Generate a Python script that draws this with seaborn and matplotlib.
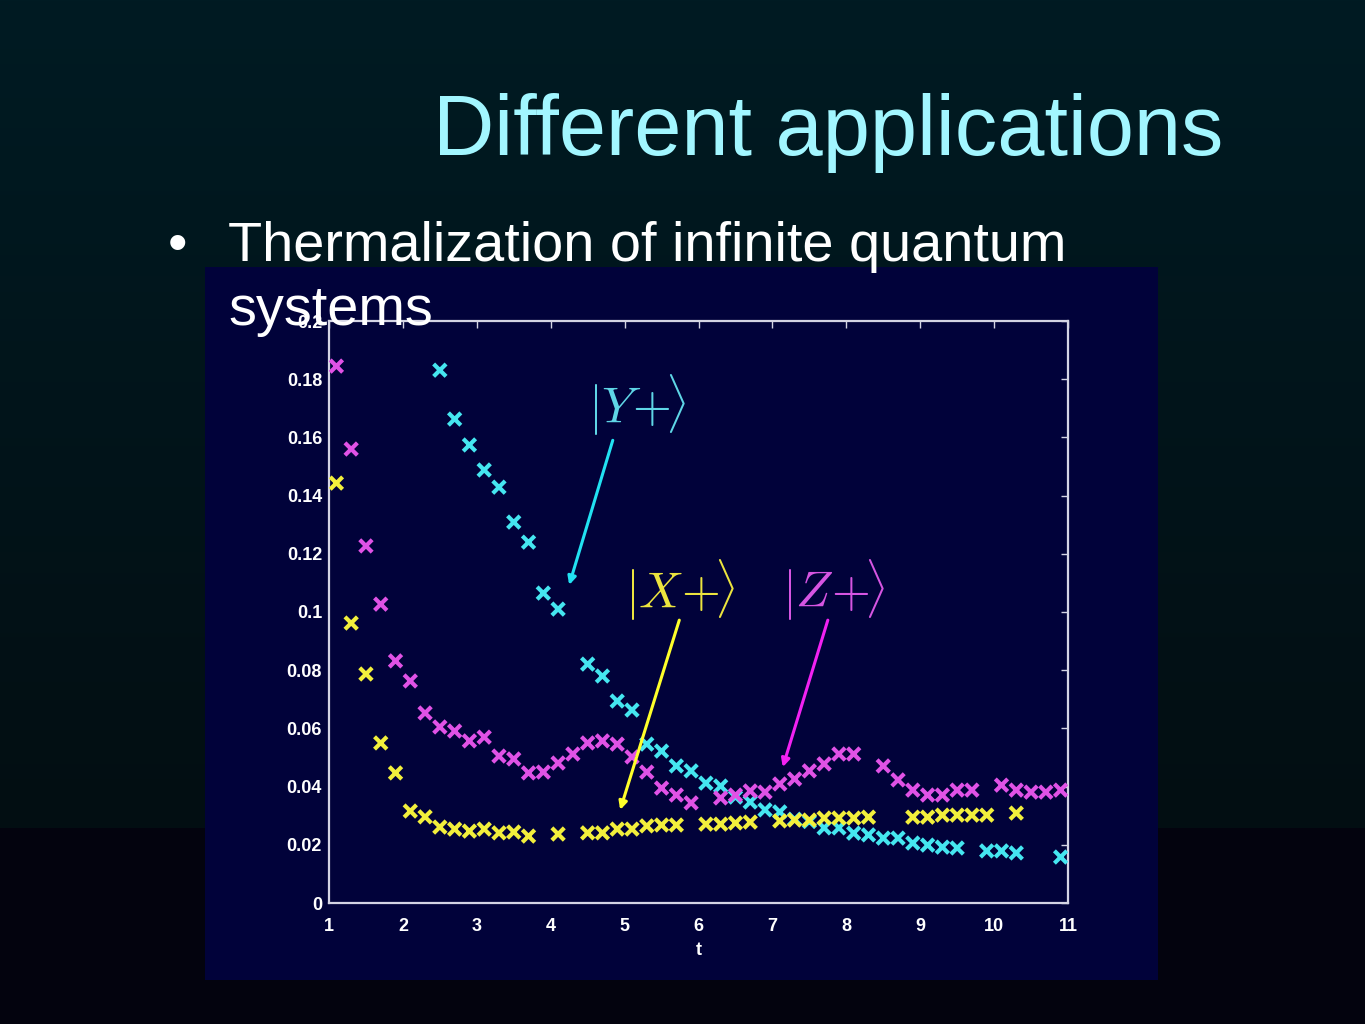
import numpy as np
import pandas as pd
import matplotlib
matplotlib.use("Agg")
import matplotlib.pyplot as plt
import seaborn as sns
from matplotlib.patches import Rectangle
from matplotlib.ticker import FuncFormatter

sns.set_theme(style="white")
plt.rcParams['font.family'] = ['Liberation Sans', 'DejaVu Sans']
plt.rcParams['mathtext.fontset'] = 'cm'

# ---------------- data ----------------
t_y = [2.5, 2.7, 2.9, 3.1, 3.3, 3.5, 3.7, 3.9, 4.1, 4.5, 4.7, 4.9, 5.1, 5.3, 5.5,
       5.7, 5.9, 6.1, 6.3, 6.5, 6.7, 6.9, 7.1, 7.3, 7.5, 7.7, 7.9, 8.1, 8.3, 8.5,
       8.7, 8.9, 9.1, 9.3, 9.5, 9.9, 10.1, 10.3, 10.9]
v_y = [0.1831, 0.1663, 0.1574, 0.1488, 0.1429, 0.1309, 0.1240, 0.1065, 0.1010,
       0.0821, 0.0780, 0.0694, 0.0663, 0.0546, 0.0522, 0.0471, 0.0454, 0.0412,
       0.0402, 0.0364, 0.0347, 0.0320, 0.0313, 0.0288, 0.0280, 0.0258, 0.0258,
       0.0240, 0.0234, 0.0223, 0.0223, 0.0206, 0.0199, 0.0192, 0.0189, 0.0179,
       0.0179, 0.0172, 0.0158]

t_x = [1.1, 1.3, 1.5, 1.7, 1.9, 2.1, 2.3, 2.5, 2.7, 2.9, 3.1, 3.3, 3.5, 3.7, 4.1,
       4.5, 4.7, 4.9, 5.1, 5.3, 5.5, 5.7, 6.1, 6.3, 6.5, 6.7, 7.1, 7.3, 7.5, 7.7,
       7.9, 8.1, 8.3, 8.9, 9.1, 9.3, 9.5, 9.7, 9.9, 10.3]
v_x = [0.1443, 0.0962, 0.0787, 0.0550, 0.0447, 0.0316, 0.0296, 0.0261, 0.0254,
       0.0247, 0.0254, 0.0241, 0.0244, 0.0230, 0.0237, 0.0241, 0.0241, 0.0254,
       0.0254, 0.0265, 0.0268, 0.0268, 0.0271, 0.0271, 0.0275, 0.0278, 0.0282,
       0.0285, 0.0285, 0.0292, 0.0292, 0.0292, 0.0295, 0.0295, 0.0295, 0.0302,
       0.0302, 0.0302, 0.0302, 0.0309]

t_z = [1.1, 1.3, 1.5, 1.7, 1.9, 2.1, 2.3, 2.5, 2.7, 2.9, 3.1, 3.3, 3.5, 3.7, 3.9,
       4.1, 4.3, 4.5, 4.7, 4.9, 5.1, 5.3, 5.5, 5.7, 5.9, 6.3, 6.5, 6.7, 6.9, 7.1,
       7.3, 7.5, 7.7, 7.9, 8.1, 8.5, 8.7, 8.9, 9.1, 9.3, 9.5, 9.7, 10.1, 10.3,
       10.5, 10.7, 10.9]
v_z = [0.1845, 0.1560, 0.1227, 0.1027, 0.0832, 0.0763, 0.0653, 0.0605, 0.0591,
       0.0557, 0.0570, 0.0505, 0.0495, 0.0447, 0.0450, 0.0481, 0.0512, 0.0550,
       0.0557, 0.0546, 0.0502, 0.0450, 0.0395, 0.0371, 0.0344, 0.0361, 0.0371,
       0.0385, 0.0381, 0.0409, 0.0426, 0.0454, 0.0478, 0.0512, 0.0512, 0.0471,
       0.0423, 0.0388, 0.0371, 0.0371, 0.0388, 0.0388, 0.0405, 0.0388, 0.0381,
       0.0381, 0.0388]

x_ticks = [1, 2, 3, 4, 5, 6, 7, 8, 9, 10, 11]
y_ticks = [0, 0.02, 0.04, 0.06, 0.08, 0.10, 0.12, 0.14, 0.16, 0.18, 0.20]

title = "Different applications"
bullet_line1 = "Thermalization of infinite quantum"
bullet_line2 = "systems"
x_label = "t"

df = pd.concat([
    pd.DataFrame({"t": t_y, "value": v_y, "state": "Y"}),
    pd.DataFrame({"t": t_x, "value": v_x, "state": "X"}),
    pd.DataFrame({"t": t_z, "value": v_z, "state": "Z"}),
], ignore_index=True)
palette = {"Y": "#45e6f0", "X": "#f2ef3c", "Z": "#e052e6"}

# ---------------- figure ----------------
W, H = 1365, 1024
fig = plt.figure(figsize=(W / 100, H / 100), dpi=100)

# slide background gradient
bg = fig.add_axes([0, 0, 1, 1], zorder=-10)
rows = np.linspace(0, 1, H)
split = 828 / H
top = np.array([0, 27, 35]) / 255
mid = np.array([3, 14, 18]) / 255
low = np.array([3, 3, 14]) / 255
img = np.zeros((H, 2, 3))
for i, r in enumerate(rows):
    if r < split:
        c = top + (mid - top) * (r / split)
    else:
        c = low
    img[i, :, :] = c
bg.imshow(img, aspect='auto', extent=[0, 1, 0, 1], origin='upper')
bg.set_axis_off()

# chart panel
fig.patches.append(Rectangle((205 / W, 1 - 980 / H), 953 / W, 713 / H,
                             transform=fig.transFigure, facecolor="#01023a",
                             edgecolor='none', zorder=-5))

ax = fig.add_axes([329 / W, 1 - 903 / H, (1068 - 329) / W, (903 - 321) / H])
ax.set_facecolor('none')

sns.scatterplot(data=df, x="t", y="value", hue="state", palette=palette,
                marker="x", s=80, linewidth=3.0, legend=False, ax=ax, zorder=3)

ax.set_xlim(1, 11)
ax.set_ylim(0, 0.2)
ax.set_xticks(x_ticks)
ax.set_yticks(y_ticks)
ax.yaxis.set_major_formatter(FuncFormatter(lambda v, p: f"{v:g}"))
ax.xaxis.set_major_formatter(FuncFormatter(lambda v, p: f"{v:g}"))
for sp in ax.spines.values():
    sp.set_visible(True)
    sp.set_color("#d4d4e4")
    sp.set_linewidth(1.6)
ax.tick_params(direction='in', length=5, width=1.0, color="#d4d4e4",
               top=True, right=True, labelcolor='white', labelsize=13)
ax.tick_params(axis='x', pad=11)
ax.tick_params(axis='y', pad=5)
for lab in ax.get_xticklabels() + ax.get_yticklabels():
    lab.set_fontweight('bold')
ax.set_xlabel(x_label, color='white', fontsize=13, fontweight='bold', labelpad=5)
ax.set_ylabel("")
ax.grid(False)

# annotations
ax.annotate("", xy=(4.25, 0.1093), xytext=(4.84, 0.159),
            arrowprops=dict(arrowstyle='-|>', color='#22e2f2', lw=2.2,
                            mutation_scale=12, shrinkA=0, shrinkB=0))
ax.annotate("", xy=(4.94, 0.032), xytext=(5.74, 0.0972),
            arrowprops=dict(arrowstyle='-|>', color='#ffff2a', lw=2.2,
                            mutation_scale=12, shrinkA=0, shrinkB=0))
ax.annotate("", xy=(7.14, 0.0467), xytext=(7.75, 0.0972),
            arrowprops=dict(arrowstyle='-|>', color='#f222f2', lw=2.2,
                            mutation_scale=12, shrinkA=0, shrinkB=0))
ax.text(5.17, 0.1711, r"$|Y\!+\!\!\rangle$", color="#5fd6e6", fontsize=36,
        ha='center', va='center')
ax.text(5.75, 0.1075, r"$|X\!+\!\!\rangle$", color="#ece43e", fontsize=36,
        ha='center', va='center')
ax.text(7.83, 0.1075, r"$|Z\!+\!\!\rangle$", color="#d655e2", fontsize=36,
        ha='center', va='center')

# slide text
fig.text(828 / W, 1 - 155 / H, title, color="#a2f6ff", fontsize=61,
         ha='center', va='baseline')
fig.text(168 / W, 1 - 261 / H, "\u2022", color='white', fontsize=40,
         ha='left', va='baseline')
fig.text(228 / W, 1 - 261 / H, bullet_line1, color='white', fontsize=40.2,
         ha='left', va='baseline', zorder=10)
fig.text(228 / W, 1 - 325 / H, bullet_line2, color='white', fontsize=40.2,
         ha='left', va='baseline', zorder=10)

fig.savefig("out.png", dpi=100)
